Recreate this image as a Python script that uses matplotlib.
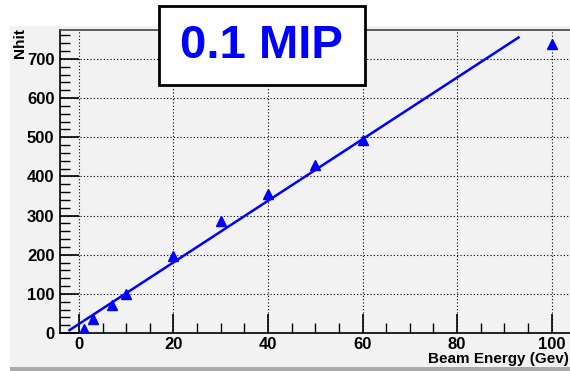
import matplotlib.pyplot as plt
from matplotlib.patches import Rectangle
from matplotlib.ticker import MultipleLocator

energy = [1, 3, 7, 10, 20, 30, 40, 50, 60, 100]
nhit = [10, 35, 71, 99, 196, 285, 354, 428, 492, 738]

fit_x = [-2, 93]
fit_intercept = 23
fit_slope = 7.87

W, H = 570, 371
fig = plt.figure(figsize=(W / 100, H / 100), dpi=100)
fig.patch.set_facecolor("white")

# grey ROOT canvas panel
fig.patches.append(Rectangle((10 / W, 1 - 367 / H), 560 / W, 341 / H,
                             transform=fig.transFigure, facecolor="#f2f2f2",
                             edgecolor="none", zorder=-5))
fig.patches.append(Rectangle((10 / W, 0), 560 / W, 4 / H,
                             transform=fig.transFigure, facecolor="#aaaaaa",
                             edgecolor="none", zorder=-5))

left, top, bottom = 60, 30, 333
ax = fig.add_axes([left / W, 1 - bottom / H, 520 / W, (bottom - top) / H])
ax.set_facecolor("#f2f2f2")
ax.set_xlim(-4, 106)
ax.set_ylim(0, 774)

ax.plot(energy, nhit, linestyle="none", marker="^", color="blue", markersize=7, zorder=3)
fy = [fit_intercept + fit_slope * x for x in fit_x]
ax.plot(fit_x, fy, color="blue", linewidth=1.8, zorder=3)

ax.xaxis.set_major_locator(MultipleLocator(20))
ax.xaxis.set_minor_locator(MultipleLocator(5))
ax.yaxis.set_major_locator(MultipleLocator(100))
ax.yaxis.set_minor_locator(MultipleLocator(20))
ax.tick_params(which="major", direction="in", length=14, width=1.2, labelsize=12)
ax.tick_params(which="minor", direction="in", length=7, width=1)
ax.tick_params(axis="x", pad=3)
ax.tick_params(axis="y", pad=4)
for lab in ax.get_xticklabels() + ax.get_yticklabels():
    lab.set_fontweight("bold")
    lab.set_family("Liberation Sans")
ax.grid(True, which="major", color="black", linestyle=(0, (1, 2)), linewidth=0.8)
for s in ax.spines.values():
    s.set_linewidth(1.2)
ax.spines["top"].set_color("#444444")

fig.text(569 / W, 1 - 359 / H, "Beam Energy (Gev)", ha="right", va="center",
         fontsize=11, fontweight="bold", family="Liberation Sans")
fig.text(20 / W, 1 - 43 / H, "Nhit", ha="center", va="center", rotation=90,
         fontsize=11, fontweight="bold", family="Liberation Sans")

# title box
fig.patches.append(Rectangle((159 / W, 1 - 85 / H), 206 / W, 79 / H,
                             transform=fig.transFigure, facecolor="white",
                             edgecolor="black", linewidth=2, zorder=5))
fig.text(261 / W, 1 - 46 / H, "0.1 MIP", ha="center", va="center", zorder=6,
         fontsize=34, fontweight="bold", color="blue", family="Liberation Sans")

fig.savefig("out.png", dpi=100)
